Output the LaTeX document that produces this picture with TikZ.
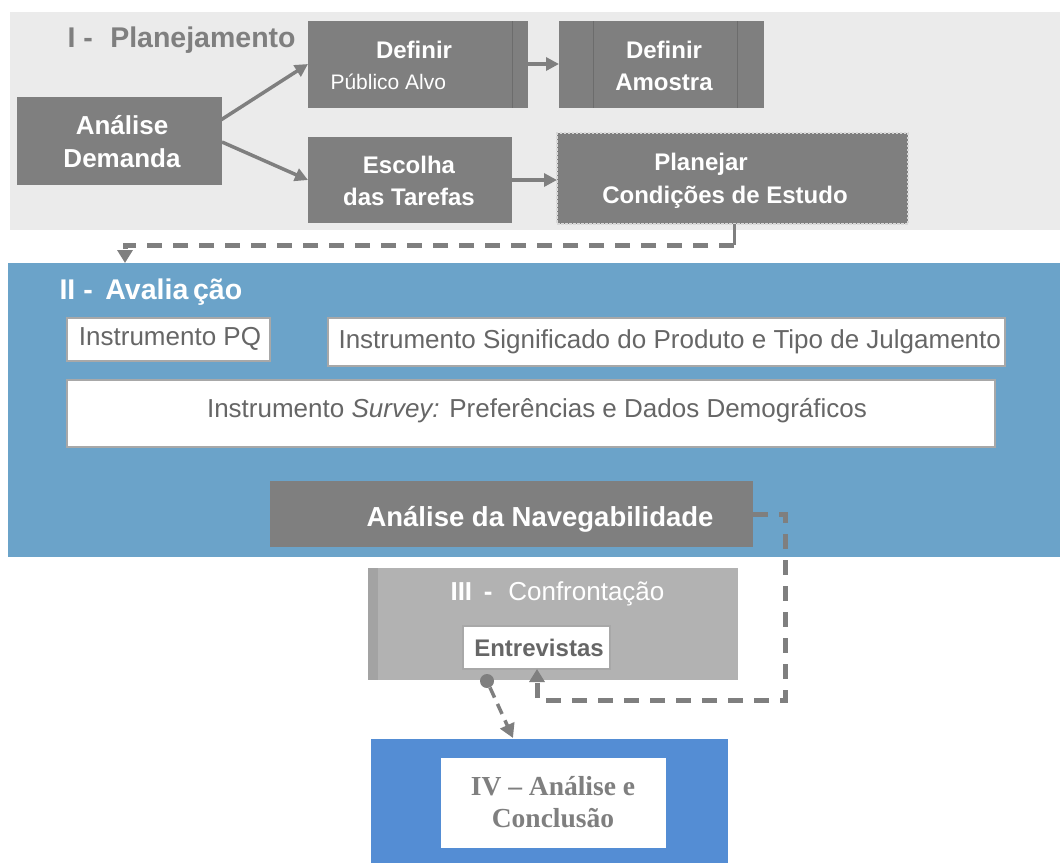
\documentclass[tikz,border=0pt]{standalone}
\usepackage{fontspec}
\setmainfont{Liberation Sans}
\newfontfamily\serifIV{Liberation Serif}
\usetikzlibrary{arrows.meta,fit}
\definecolor{bgI}{HTML}{EBEBEB}
\definecolor{boxg}{HTML}{7F7F7F}
\definecolor{blueII}{HTML}{6BA3C9}
\definecolor{blueIV}{HTML}{548DD4}
\definecolor{grayIII}{HTML}{B2B2B2}
\definecolor{stripIII}{HTML}{A3A3A3}
\definecolor{txtg}{HTML}{666666}
\definecolor{lineg}{HTML}{7F7F7F}
\definecolor{dotb}{HTML}{D8D8D8}
\definecolor{shadowg}{HTML}{A8A8A8}
\begin{document}
\begin{tikzpicture}[x=1pt,y=-1pt,
  region/.style={inner sep=0pt, outer sep=0pt, draw=none},
  darkbox/.style={fill=boxg, inner sep=0pt, outer sep=0pt},
  wbox/.style={fill=white, draw=shadowg, line width=1.2pt, inner sep=0pt, outer sep=0pt},
  wtext/.style={text=white, align=center, font=\fontsize{24}{32}\selectfont\bfseries},
  gtext/.style={text=txtg, font=\fontsize{26}{30}\selectfont},
  title/.style={font=\fontsize{28.5}{32}\selectfont\bfseries},
  conn/.style={draw=lineg, line width=3.5pt, -{Triangle[length=13pt,width=13pt]}},
  dconn/.style={draw=lineg, line width=5pt, dash pattern=on 15pt off 11pt},
  dtip/.style={-{Triangle[length=13pt,width=15pt]}},
]
\useasboundingbox (0,0) rectangle (1060,863);

% ---------- I - Planejamento ----------
\node[region, fill=bgI, fit={(10,12) (1060,230)}] (regI) {};
\node[title, text=boxg, anchor=west] (tI) at (64,40) {I -\,\, Planejamento};

\node[darkbox, fit={(17,97) (222,185)}] (ad) {};
\node[wtext, font=\fontsize{26}{33}\selectfont\bfseries] (adt) at (122,142) {Análise\\Demanda};

\node[darkbox, fit={(308,21) (528,108)}] (dpa) {};
\draw[draw=boxg!85!black, line width=0.8pt] (512,21) -- (512,108);
\node[wtext] (dpat1) at (414,50) {Definir};
\node[text=white, anchor=west, font=\fontsize{21}{26}\selectfont] (dpat2) at (327,82) {Público Alvo};

\node[darkbox, fit={(559,21) (764,108)}] (dam) {};
\draw[draw=boxg!85!black, line width=0.8pt] (593,21) -- (593,108) (737,21) -- (737,108);
\node[wtext] (damt) at (664,66) {Definir\\Amostra};

\node[darkbox, fit={(308,137) (512,223)}] (et) {};
\node[wtext] (ett) at (409,181) {Escolha\\das Tarefas};

\node[darkbox, fit={(557,133) (908,224)}, draw=dotb, line width=1.8pt, dash pattern=on 2.5pt off 1.5pt] (pc) {};
\node[text=white, font=\fontsize{24}{32}\selectfont\bfseries] (pct1) at (701,164) {Planejar};
\node[text=white, font=\fontsize{24}{32}\selectfont\bfseries] (pct2) at (725,197) {Condições de Estudo};

\draw[conn] (213,125) -- (dpa.west |- 0,64);
\draw[conn] (ad.east |- 0,142) -- (et.west |- 0,180);
\draw[conn] (dpa.east |- 0,64) -- (dam.west |- 0,64);
\draw[conn] (et.east |- 0,180) -- (pc.west |- 0,180);

% ---------- II - Avaliacao ----------
\node[region, fill=blueII, fit={(8,263) (1060,557)}] (regII) {};
\coordinate (d1a) at (734,245);
\coordinate (d1b) at (125,245);
\draw[dconn, line width=3pt, dash pattern=on 20pt off 0pt] (pc.south -| d1a) -- (d1a);
\draw[dconn, dtip] (d1a) -- (d1b) -- (regII.north -| d1b);

\node[title, text=white, anchor=west] (tII) at (56,292) {II -\, Avalia\,ção};

\node[wbox, fit={(67,318) (270,361)}] (pq) {};
\node[gtext] (pqt) at (170,339) {Instrumento PQ};

\node[wbox, fit={(328,318) (1005,366)}] (sig) {};
\node[gtext, anchor=west] (sigt) at (335,342) {Instrumento Significado do Produto e Tipo de Julgamento};

\node[wbox, fit={(67,380) (995,447)}] (sur) {};
\node[gtext] (surt) at (537,411) {Instrumento \textit{Survey:} Preferências e Dados Demográficos};

\node[darkbox, fit={(270,481) (753,547)}] (nav) {};
\node[wtext, font=\fontsize{27.5}{32}\selectfont\bfseries] (navt) at (540,519) {Análise da Navegabilidade};

% ---------- III - Confrontacao ----------
\node[region, fill=grayIII, fit={(368,568) (738,680)}] (regIII) {};
\fill[stripIII] (368,568) rectangle (378,680);
\node[text=white, anchor=west, font=\fontsize{26}{30}\selectfont] (tIII) at (447,594) {\textbf{III\, -}\,\, Confrontação};

\node[wbox, fit={(463,626) (610,669)}] (ent) {};
\node[text=txtg, font=\fontsize{24}{28}\selectfont\bfseries] (entt) at (539,648) {Entrevistas};

\coordinate (d2a) at (785,514);
\coordinate (d2b) at (785,700);
\coordinate (d2c) at (537,700);
\draw[dconn, dtip] (nav.east |- d2a) -- (d2a) -- (d2b) -- (d2c) -- (ent.south -| d2c);

% ---------- IV ----------
\node[region, fill=blueIV, fit={(371,739) (728,863)}] (regIV) {};
\node[region, fill=white, fit={(441,758) (666,848)}] (iv) {};
\node[text=boxg, align=center, font=\serifIV\fontsize{27.5}{32}\selectfont\bfseries] (ivt) at (553,802) {IV – Análise e\\Conclusão};

\node[circle, fill=lineg, minimum size=14pt, inner sep=0pt] (dot) at (487,681) {};
\coordinate (d3) at (513,738);
\draw[draw=lineg, line width=3.5pt, dash pattern=on 11pt off 7pt, -{Triangle[length=14pt,width=15pt]}] (dot) -- (d3);
\end{tikzpicture}
\end{document}
